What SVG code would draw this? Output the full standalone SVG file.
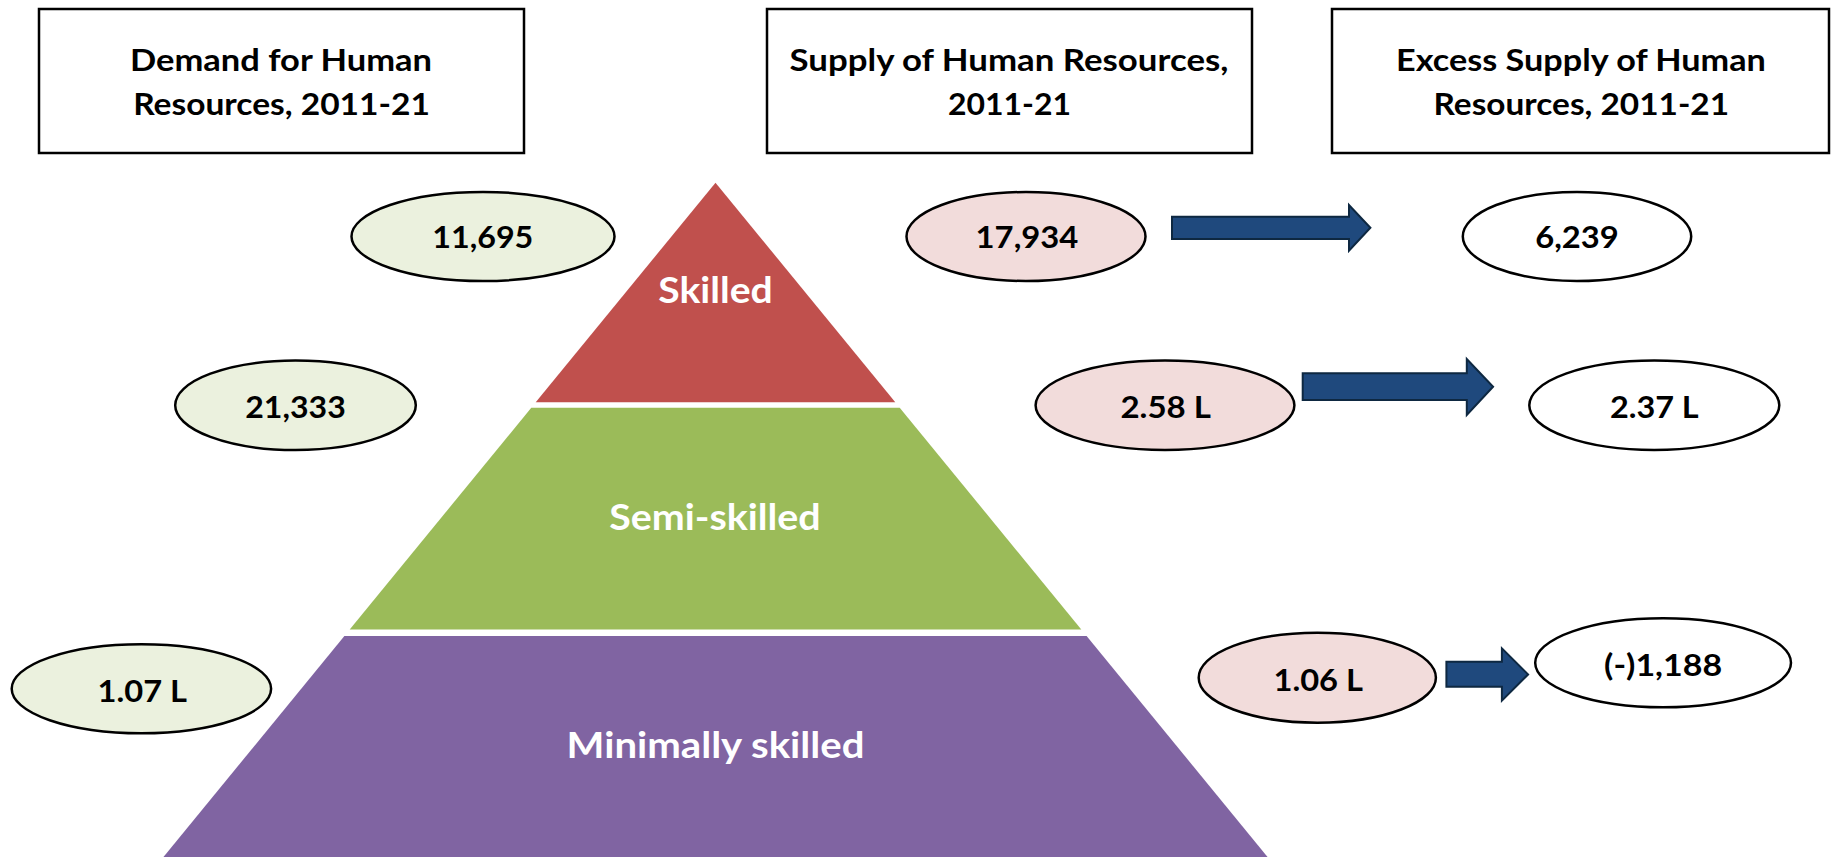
<svg xmlns="http://www.w3.org/2000/svg" width="1832" height="857" viewBox="0 0 1832 857">
<style>
.box{fill:#fff;stroke:#000;stroke-width:2.5}
.ell{stroke:#000;stroke-width:2.5}
.dem{fill:#EBF1DE}
.sup{fill:#F2DCDB}
.exc{fill:#fff}
.t{font-family:Lato,"Liberation Sans",sans-serif;font-weight:bold;fill:#000;text-anchor:middle}
.h{font-size:31px}
.n{font-size:30px}
.p{font-family:Lato,"Liberation Sans",sans-serif;font-weight:bold;fill:#fff;text-anchor:middle;font-size:37px}
.arr{fill:#1F497D;stroke:#0E2841;stroke-width:2}
</style>
<rect width="1832" height="857" fill="#fff"/>
<g id="pyramid">
<g id="skilled"><polygon points="715.5,182.7 895.3,402.3 535.7,402.3" fill="#C0504D"/><text class="p" x="715.5" y="303.3" textLength="114.5" lengthAdjust="spacingAndGlyphs">Skilled</text></g>
<g id="semi-skilled"><polygon points="531.3,407.7 899.7,407.7 1081.3,629.5 349.7,629.5" fill="#9BBB59"/><text class="p" x="715" y="530" textLength="211.4" lengthAdjust="spacingAndGlyphs">Semi-skilled</text></g>
<g id="minimally-skilled"><polygon points="344.4,636 1086.6,636 1270,860 161,860" fill="#8064A2"/><text class="p" x="715.5" y="758.3" textLength="297.9" lengthAdjust="spacingAndGlyphs">Minimally skilled</text></g>
</g>
<g id="header-demand"><rect class="box" x="39" y="9" width="485" height="144"/>
<text class="t h" x="281" y="70.7" textLength="302" lengthAdjust="spacingAndGlyphs">Demand for Human</text>
<text class="t h" x="281.5" y="115" textLength="296.7" lengthAdjust="spacingAndGlyphs">Resources, 2011-21</text></g>
<g id="header-supply"><rect class="box" x="767" y="9" width="485" height="144"/>
<text class="t h" x="1009" y="70.7" textLength="438.8" lengthAdjust="spacingAndGlyphs">Supply of Human Resources,</text>
<text class="t h" x="1009.5" y="115" textLength="123" lengthAdjust="spacingAndGlyphs">2011-21</text></g>
<g id="header-excess"><rect class="box" x="1332" y="9" width="497" height="144"/>
<text class="t h" x="1581" y="70.7" textLength="369.8" lengthAdjust="spacingAndGlyphs">Excess Supply of Human</text>
<text class="t h" x="1581.3" y="115" textLength="295.6" lengthAdjust="spacingAndGlyphs">Resources, 2011-21</text></g>
<g id="demand-skilled"><ellipse class="ell dem" cx="483" cy="236.5" rx="131.5" ry="44.5"/><text class="t n" x="482.8" y="248.3" textLength="101" lengthAdjust="spacingAndGlyphs">11,695</text></g>
<g id="demand-semi"><ellipse class="ell dem" cx="295.5" cy="405.3" rx="120.3" ry="44.7"/><text class="t n" x="295.5" y="417.7" textLength="100.5" lengthAdjust="spacingAndGlyphs">21,333</text></g>
<g id="demand-min"><ellipse class="ell dem" cx="141.4" cy="688.8" rx="129.7" ry="44.5"/><text class="t n" x="142.3" y="701.7" textLength="89.4" lengthAdjust="spacingAndGlyphs">1.07 L</text></g>
<g id="supply-skilled"><ellipse class="ell sup" cx="1026" cy="236.5" rx="119.5" ry="44.5"/><text class="t n" x="1027" y="248.3" textLength="102.8" lengthAdjust="spacingAndGlyphs">17,934</text></g>
<g id="supply-semi"><ellipse class="ell sup" cx="1165" cy="405.3" rx="129.4" ry="44.7"/><text class="t n" x="1165.7" y="417.7" textLength="90.5" lengthAdjust="spacingAndGlyphs">2.58 L</text></g>
<g id="supply-min"><ellipse class="ell sup" cx="1317.3" cy="677.7" rx="118.6" ry="45"/><text class="t n" x="1318.2" y="690.7" textLength="89.4" lengthAdjust="spacingAndGlyphs">1.06 L</text></g>
<g id="excess-skilled"><ellipse class="ell exc" cx="1577" cy="236.5" rx="114.2" ry="44.5"/><text class="t n" x="1577" y="248.3" textLength="83.5" lengthAdjust="spacingAndGlyphs">6,239</text></g>
<g id="excess-semi"><ellipse class="ell exc" cx="1654.3" cy="405.3" rx="125" ry="44.7"/><text class="t n" x="1654.3" y="417.7" textLength="88.8" lengthAdjust="spacingAndGlyphs">2.37 L</text></g>
<g id="excess-min"><ellipse class="ell exc" cx="1663.1" cy="662.8" rx="127.9" ry="44.5"/><text class="t n" x="1663.1" y="676" textLength="118" lengthAdjust="spacingAndGlyphs">(-)1,188</text></g>
<g id="connectors">
<path class="arr" d="M1172,216.7 L1349,216.7 L1349,205 L1370.4,227.8 L1349,250.7 L1349,239 L1172,239 Z"/>
<path class="arr" d="M1302.7,373.3 L1466.8,373.3 L1466.8,359 L1493.1,386.8 L1466.8,415 L1466.8,400 L1302.7,400 Z"/>
<path class="arr" d="M1446.4,661.7 L1501.9,661.7 L1501.9,648.3 L1528.1,674.4 L1501.9,700.7 L1501.9,686.7 L1446.4,686.7 Z"/>
</g>
</svg>
